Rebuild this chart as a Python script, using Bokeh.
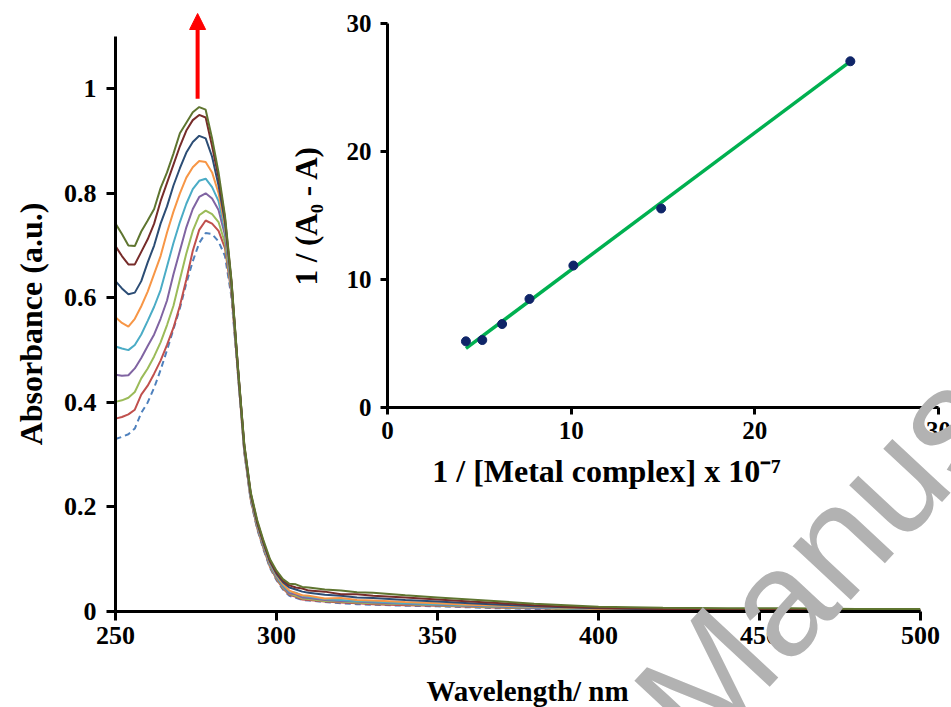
import math
from bokeh.plotting import figure
from bokeh.models import Range1d, FixedTicker, Arrow, NormalHead
from bokeh.core.properties import value
from bokeh.embed import file_html
from bokeh.resources import INLINE

# ---------------- data ----------------
wavelength = [250, 252, 254, 256, 258, 260, 262, 264, 266, 268, 270, 272, 274, 276, 278,
              280, 282, 284, 286, 288, 290, 292, 294, 296, 298, 300, 302, 304, 306, 308, 310,
              315, 320, 325, 330, 340, 350, 360, 370, 380, 390, 400, 420, 440, 460, 480, 500]

abs_0 = [0.330, 0.334, 0.339, 0.350, 0.380, 0.400, 0.428, 0.462, 0.500, 0.540, 0.580, 0.628, 0.670, 0.705, 0.724,
         0.722, 0.708, 0.680, 0.602, 0.455, 0.304, 0.212, 0.158, 0.118, 0.083, 0.060, 0.042, 0.030, 0.026, 0.022, 0.021,
         0.018, 0.016, 0.014, 0.013, 0.011, 0.010, 0.008, 0.006, 0.005, 0.004, 0.003, 0.002, 0.002, 0.001, 0.001, 0.001]
abs_1 = [0.369, 0.372, 0.377, 0.386, 0.415, 0.432, 0.455, 0.480, 0.510, 0.543, 0.585, 0.635, 0.690, 0.730, 0.748,
         0.742, 0.728, 0.695, 0.610, 0.458, 0.306, 0.214, 0.160, 0.120, 0.085, 0.062, 0.044, 0.032, 0.028, 0.023, 0.022,
         0.019, 0.017, 0.016, 0.014, 0.012, 0.011, 0.009, 0.007, 0.006, 0.005, 0.004, 0.003, 0.002, 0.002, 0.001, 0.001]
abs_2 = [0.401, 0.404, 0.409, 0.420, 0.446, 0.465, 0.488, 0.515, 0.548, 0.585, 0.635, 0.685, 0.728, 0.758, 0.767,
         0.760, 0.745, 0.705, 0.615, 0.460, 0.308, 0.216, 0.162, 0.122, 0.087, 0.064, 0.046, 0.034, 0.030, 0.025, 0.024,
         0.020, 0.019, 0.017, 0.016, 0.014, 0.012, 0.010, 0.008, 0.007, 0.005, 0.004, 0.003, 0.002, 0.002, 0.002, 0.002]
abs_3 = [0.453, 0.451, 0.452, 0.465, 0.485, 0.508, 0.530, 0.560, 0.595, 0.645, 0.690, 0.735, 0.770, 0.793, 0.800,
         0.790, 0.768, 0.720, 0.620, 0.462, 0.310, 0.218, 0.164, 0.124, 0.089, 0.066, 0.048, 0.035, 0.033, 0.027, 0.026,
         0.022, 0.020, 0.019, 0.017, 0.015, 0.013, 0.011, 0.009, 0.007, 0.006, 0.004, 0.003, 0.003, 0.002, 0.002, 0.002]
abs_4 = [0.507, 0.503, 0.500, 0.510, 0.530, 0.556, 0.583, 0.615, 0.660, 0.705, 0.745, 0.780, 0.808, 0.824, 0.828,
         0.812, 0.785, 0.730, 0.624, 0.464, 0.312, 0.220, 0.166, 0.126, 0.091, 0.068, 0.050, 0.038, 0.036, 0.030, 0.028,
         0.024, 0.022, 0.020, 0.019, 0.016, 0.014, 0.012, 0.010, 0.008, 0.006, 0.005, 0.004, 0.003, 0.003, 0.002, 0.002]
abs_5 = [0.563, 0.552, 0.545, 0.560, 0.584, 0.612, 0.646, 0.680, 0.725, 0.765, 0.800, 0.830, 0.850, 0.862, 0.860,
         0.840, 0.800, 0.738, 0.627, 0.466, 0.314, 0.222, 0.168, 0.128, 0.093, 0.070, 0.053, 0.040, 0.035, 0.031, 0.030,
         0.025, 0.026, 0.022, 0.021, 0.018, 0.016, 0.013, 0.011, 0.009, 0.007, 0.005, 0.004, 0.003, 0.003, 0.002, 0.002]
abs_6 = [0.632, 0.618, 0.607, 0.610, 0.632, 0.668, 0.700, 0.742, 0.775, 0.815, 0.848, 0.878, 0.898, 0.910, 0.905,
         0.870, 0.815, 0.745, 0.630, 0.467, 0.316, 0.224, 0.170, 0.130, 0.095, 0.072, 0.056, 0.046, 0.042, 0.038, 0.036,
         0.032, 0.030, 0.027, 0.026, 0.022, 0.019, 0.016, 0.013, 0.010, 0.008, 0.006, 0.004, 0.003, 0.003, 0.002, 0.002]
abs_7 = [0.699, 0.680, 0.664, 0.664, 0.688, 0.712, 0.742, 0.785, 0.820, 0.855, 0.890, 0.920, 0.940, 0.950, 0.945,
         0.890, 0.830, 0.752, 0.632, 0.468, 0.318, 0.226, 0.172, 0.132, 0.097, 0.075, 0.059, 0.050, 0.046, 0.044, 0.040,
         0.038, 0.033, 0.033, 0.030, 0.027, 0.023, 0.019, 0.016, 0.012, 0.009, 0.007, 0.005, 0.004, 0.003, 0.003, 0.003]
abs_8 = [0.742, 0.722, 0.700, 0.699, 0.727, 0.748, 0.770, 0.810, 0.840, 0.876, 0.915, 0.935, 0.955, 0.965, 0.960,
         0.905, 0.840, 0.757, 0.635, 0.470, 0.320, 0.228, 0.175, 0.135, 0.100, 0.078, 0.062, 0.053, 0.052, 0.047, 0.046,
         0.042, 0.040, 0.037, 0.036, 0.031, 0.027, 0.023, 0.019, 0.015, 0.012, 0.009, 0.007, 0.006, 0.006, 0.005, 0.005]

x_ticks = [250, 300, 350, 400, 450, 500]
y_ticks = [0, 0.2, 0.4, 0.6, 0.8, 1]
y_tick_labels = ["0", "0.2", "0.4", "0.6", "0.8", "1"]

arrow_x = 275.5
arrow_y = [0.981, 1.144]

# inset (double reciprocal) data
inv_conc = [4.27, 5.16, 6.24, 7.73, 10.12, 14.9, 25.2]
inv_dA = [5.17, 5.27, 6.52, 8.48, 11.09, 15.55, 27.05]
fit_x = [4.27, 25.04]
fit_y = [4.62, 26.87]
inset_ticks = [0, 10, 20, 30]

series = [abs_0, abs_1, abs_2, abs_3, abs_4, abs_5, abs_6, abs_7, abs_8]
colors = ["#4F81BD", "#C0504D", "#9BBB59", "#8064A2", "#4BACC6",
          "#F79646", "#2C4D75", "#772C2A", "#5F7530"]

W, H = 951, 707
OVERLAY = {"position": "absolute", "left": "0px", "top": "0px"}
XLO, XHI, YLO, YHI = 250, 500, 0, 1.1
BL, BR, BT, BB = 115, 31, 36, 96   # main plot borders

# ---------------- main spectrum ----------------
p = figure(width=W, height=H, output_backend="svg", toolbar_location=None,
           x_range=Range1d(XLO, XHI), y_range=Range1d(YLO, YHI),
           min_border_left=BL, min_border_right=BR, min_border_top=BT, min_border_bottom=BB)
p.outline_line_color = None
p.grid.visible = False
p.background_fill_color = "white"
p.border_fill_color = "white"

for i, (ys, c) in enumerate(zip(series, colors)):
    p.line(wavelength, ys, line_color=c, line_width=2,
           line_dash="6 4" if i == 0 else "solid")

for ax in (p.xaxis[0], p.yaxis[0]):
    ax.axis_line_width = 3
    ax.axis_line_color = "black"
    ax.major_tick_line_width = 3
    ax.major_tick_line_color = "black"
    ax.major_tick_out = 9
    ax.major_tick_in = 0
    ax.minor_tick_line_color = None
    ax.major_label_text_font = "Liberation Serif"
    ax.major_label_text_font_style = "bold"
    ax.major_label_text_font_size = "26px"
    ax.major_label_text_color = "black"
    ax.axis_label_text_font = "Liberation Serif"
    ax.axis_label_text_font_style = "bold"
    ax.axis_label_text_color = "black"

p.xaxis.ticker = FixedTicker(ticks=x_ticks)
p.yaxis.ticker = FixedTicker(ticks=y_ticks)
p.yaxis.major_label_overrides = {t: l for t, l in zip(y_ticks, y_tick_labels)}
p.yaxis.axis_label = "Absorbance (a.u.)"
p.yaxis.axis_label_text_font_size = "32px"
p.xaxis.major_label_standoff = 6
p.yaxis.major_label_standoff = 10
p.yaxis.axis_label_standoff = 12

# ---------------- inset ----------------
p2 = figure(width=W, height=H, output_backend="svg", toolbar_location=None,
            x_range=Range1d(0, 30), y_range=Range1d(0, 30),
            min_border_left=387, min_border_right=13, min_border_top=23, min_border_bottom=300,
            styles=OVERLAY)
p2.outline_line_color = None
p2.grid.visible = False
p2.background_fill_alpha = 0
p2.border_fill_alpha = 0

p2.line(fit_x, fit_y, line_color="#00B050", line_width=3.5)
p2.scatter(inv_conc, inv_dA, size=9, fill_color="#0F2568", line_color="#0F2568")

for ax in (p2.xaxis[0], p2.yaxis[0]):
    ax.ticker = FixedTicker(ticks=inset_ticks)
    ax.axis_line_width = 3
    ax.major_tick_line_width = 3
    ax.major_tick_out = 7
    ax.major_tick_in = 0
    ax.minor_tick_line_color = None
    ax.major_label_text_font = "Liberation Serif"
    ax.major_label_text_font_style = "bold"
    ax.major_label_text_font_size = "25px"
    ax.major_label_text_color = "black"
    ax.axis_label_text_font = "Liberation Serif"
    ax.axis_label_text_font_style = "bold"
    ax.axis_label_text_color = "black"
    ax.axis_label_text_font_size = "31px"
p2.yaxis.axis_label = "1 / (A\u2080 - A)"
p2.xaxis.major_label_standoff = 7
p2.yaxis.major_label_standoff = 9
p2.yaxis.axis_label_standoff = 20

# ---------------- full-page overlay sharing the spectrum's scale ----------------
kx = (W - BL - BR) / (XHI - XLO)
ky = (H - BT - BB) / (YHI - YLO)
ox0, ox1 = XLO - BL / kx, XHI + BR / kx
oy0, oy1 = YLO - BB / ky, YHI + BT / ky


def at(px, py):
    """page position (pixels from top-left) -> overlay coordinates"""
    return ox0 + px / kx, oy1 - py / ky


p3 = figure(width=W, height=H, output_backend="svg", toolbar_location=None,
            x_range=Range1d(ox0, ox1), y_range=Range1d(oy0, oy1), title=None,
            x_axis_location=None, y_axis_location=None,
            min_border=0, styles=OVERLAY)
p3.outline_line_color = None
p3.grid.visible = False
p3.background_fill_alpha = 0
p3.border_fill_alpha = 0

# red arrow (increase of absorbance)
p3.add_layout(Arrow(end=NormalHead(size=16, fill_color="#FF0000", line_color="#FF0000", line_width=1),
                    x_start=arrow_x, y_start=arrow_y[0], x_end=arrow_x, y_end=arrow_y[1],
                    line_color="#FF0000", line_width=4))

# axis titles placed as in the original
tx, ty = at(527, 690)
p3.text(x=[tx], y=[ty], text=["Wavelength/ nm"],
        text_font=value("Liberation Serif"), text_font_style="bold", text_font_size="29px",
        text_color="black", text_align="center", text_baseline="middle")
tx, ty = at(606, 470)
p3.text(x=[tx], y=[ty], text=["1 / [Metal complex] x 10\u207b\u2077"],
        text_font=value("Liberation Serif"), text_font_style="bold", text_font_size="32px",
        text_color="black", text_align="center", text_baseline="middle")

# watermark
tx, ty = at(663, 724)
p3.text(x=[tx], y=[ty], text=["Manuscript"], angle=math.radians(47),
        text_font=value("Liberation Sans"), text_font_size="150px",
        text_color="#B2B2B2", text_align="left", text_baseline="alphabetic")

with open("out.html", "w") as f:
    f.write(file_html([p, p2, p3], INLINE))
